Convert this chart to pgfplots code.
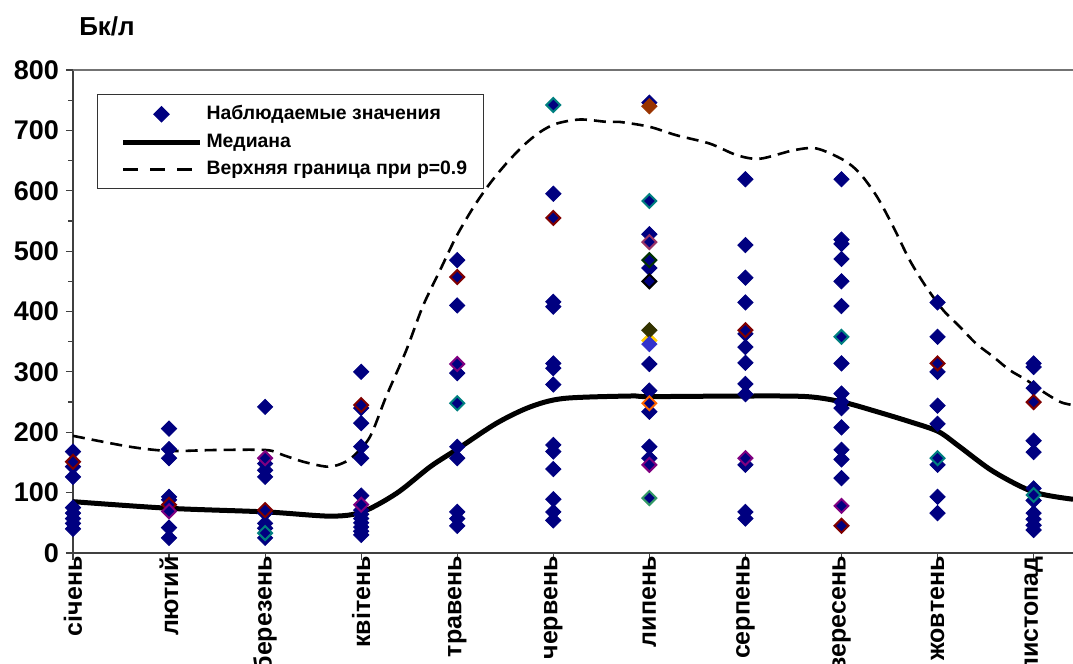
\documentclass[border=0pt]{standalone}
\usepackage{fontspec}
\setmainfont{Liberation Sans}
\usepackage{pgfplots}
\pgfplotsset{compat=1.18}
\definecolor{navy}{HTML}{000080}
\definecolor{dred}{HTML}{800000}
\definecolor{dpurp}{HTML}{800080}
\definecolor{dteal}{HTML}{008080}
\definecolor{brownx}{HTML}{993300}
\definecolor{mauve}{HTML}{993366}
\definecolor{dgreen}{HTML}{003300}
\definecolor{olivex}{HTML}{333300}
\definecolor{yelx}{HTML}{FFCC00}
\definecolor{bluex}{HTML}{3333CC}
\definecolor{orangex}{HTML}{FF6600}
\definecolor{seagr}{HTML}{339966}
\newcommand\tickfont{\bfseries\fontsize{13.5}{15}\selectfont}
\newcommand\xtickfont{\bfseries\fontsize{12.5}{14}\selectfont}
\pgfplotsset{mylegimg/.style={legend image code/.code={\path (0pt,0pt); \draw[mark repeat=2,mark phase=2,##1] plot coordinates {(5.5pt,0pt) (24.75pt,0pt) (44pt,0pt)};}},
  spec/.style={only marks, forget plot, mark=square*, mark size=2.45pt, mark options={rotate=45, draw=#1, fill=navy, line width=1pt}},
  specf/.style={only marks, forget plot, mark=square*, mark size=2.7pt, mark options={rotate=45, draw=#1, fill=#1}}}
\begin{document}
\begin{tikzpicture}
\begin{axis}[
  scale only axis, width=500pt, height=241.5pt,
  xmin=0, xmax=10.41, ymin=0, ymax=800,
  clip=false,
  axis x line*=bottom, axis y line*=left,
  axis line style={black!75, line width=0.6pt},
  xtick={0,...,10},
  xticklabels={січень,лютий,березень,квітень,травень,червень,липень,серпень,вересень,жовтень,листопад},
  xticklabel style={rotate=90, anchor=east, font=\xtickfont, inner sep=1pt},
  xticklabel shift=-3pt,
  ytick={0,100,...,800},
  minor y tick num=1,
  yticklabel style={font=\tickfont},
  /pgf/number format/assume math mode=true,
  tick align=outside,
  major tick length=3.5pt, minor tick length=2.5pt,
  tick style={black!75, line width=0.6pt},
  legend style={at={(0.024,0.95)}, anchor=north west, draw=black!80, line width=0.5pt,
    font=\bfseries\fontsize{9.7}{11.5}\selectfont, inner xsep=6pt, inner ysep=3.5pt,
    row sep=1.5pt},
  legend cell align=left,
  mylegimg,
]
\draw[black!55, line width=0.6pt] (rel axis cs:0,1) -- (rel axis cs:1,1);
% upper bound
\addplot[black, line width=1.3pt, dash pattern=on 6pt off 3.5pt, smooth, forget plot] coordinates {
(0.00,194) (0.59,176) (1.00,169) (1.46,170.5) (2.01,170.5) (2.19,162) (2.40,151) (2.64,143)
(2.78,147) (2.91,159) (3.09,192) (3.26,259) (3.47,336) (3.64,408) (3.82,468) (3.99,524)
(4.17,573) (4.34,612) (4.51,645) (4.69,675) (4.86,697) (5.03,711) (5.28,718) (5.56,714)
(5.69,714) (6.00,706) (6.28,692) (6.63,678) (6.91,659) (7.15,653) (7.50,667) (7.74,670)
(8.02,651) (8.19,629) (8.37,590) (8.54,540) (8.71,485) (8.88,441) (9.06,402) (9.23,375)
(9.40,347) (9.58,325) (9.75,303) (9.93,286) (10.10,267) (10.28,250) (10.41,245)};
% median
\addplot[black, line width=2.5pt, smooth, forget plot] coordinates {
(0.00,85) (1.00,74) (2.01,68) (2.68,61) (3.01,68) (3.37,99) (3.72,143) (4.01,173)
(4.41,215) (4.76,242) (5.11,256) (5.80,260) (6.00,259) (7.00,260) (7.64,259) (8.01,250)
(8.37,234) (8.72,217) (9.01,201) (9.23,176) (9.58,135) (10.00,101) (10.41,89)};
% observed values
\addplot[only marks, mark=square*, mark size=2.7pt, mark options={rotate=45, draw=navy, fill=navy}, mylegimg]
 coordinates {
(0,168) (0,143) (0,126) (0,75) (0,66) (0,57) (0,49) (0,40)
(1,206) (1,172) (1,157) (1,93) (1,88) (1,42) (1,25)
(2,242) (2,148) (2,137) (2,126) (2,66) (2,49) (2,41) (2,25)
(3,300) (3,240) (3,215) (3,176) (3,157) (3,95) (3,71) (3,64) (3,57) (3,50) (3,43) (3,36) (3,30)
(4,485) (4,410) (4,298) (4,176) (4,157) (4,68) (4,57) (4,45)
(5,595) (5,416) (5,408) (5,314) (5,306) (5,279) (5,179) (5,168) (5,139) (5,89) (5,68) (5,54)
(6,746) (6,528) (6,472) (6,313) (6,269) (6,234) (6,176) (6,157)
(7,619) (7,510) (7,456) (7,415) (7,363) (7,341) (7,315) (7,280) (7,263) (7,146) (7,68) (7,57)
(8,619) (8,519) (8,512) (8,487) (8,450) (8,409) (8,314) (8,264) (8,250) (8,240) (8,208) (8,171) (8,155) (8,124)
(9,415) (9,358) (9,300) (9,244) (9,214) (9,146) (9,93) (9,66)
(10,314) (10,308) (10,273) (10,186) (10,167) (10,107) (10,87) (10,66) (10,56) (10,46) (10,38)};
\addlegendentry{Наблюдаемые значения}
% coloured-outline points
\addplot[spec=dred] coordinates {(0,151) (1,80) (2,71) (3,245) (4,457) (5,555) (7,369) (8,45) (9,314) (10,250)};
\addplot[spec=dpurp] coordinates {(1,69) (2,157) (3,80) (4,313) (6,146) (7,157) (8,78)};
\addplot[spec=dteal] coordinates {(2,33) (4,248) (5,742) (6,583) (8,358) (9,157) (10,96)};
\addplot[specf=brownx] coordinates {(6,740)};
\addplot[spec=mauve] coordinates {(6,515)};
\addplot[spec=dgreen] coordinates {(6,485)};
\addplot[spec=black] coordinates {(6,450)};
\addplot[specf=yelx] coordinates {(6,352)};
\addplot[specf=olivex] coordinates {(6,369)};
\addplot[specf=bluex] coordinates {(6,346)};
\addplot[spec=orangex] coordinates {(6,248)};
\addplot[spec=seagr] coordinates {(6,91)};
\addlegendimage{black, line width=2.5pt}
\addlegendentry{Медиана}
\addlegendimage{black, line width=1.3pt, dash pattern=on 7.5pt off 6pt}
\addlegendentry{Верхняя граница при p=0.9}
\node[font=\bfseries\fontsize{13}{15}\selectfont, xshift=17pt, yshift=22pt] at (rel axis cs:0,1) {Бк/л};
\coordinate (sw) at (rel axis cs:0,0);
\coordinate (ne) at (rel axis cs:1,1);
\end{axis}
\pgfresetboundingbox
\path ([xshift=-36.5pt,yshift=-55.5pt]sw) rectangle ([yshift=35pt]ne);
\end{tikzpicture}
\end{document}
